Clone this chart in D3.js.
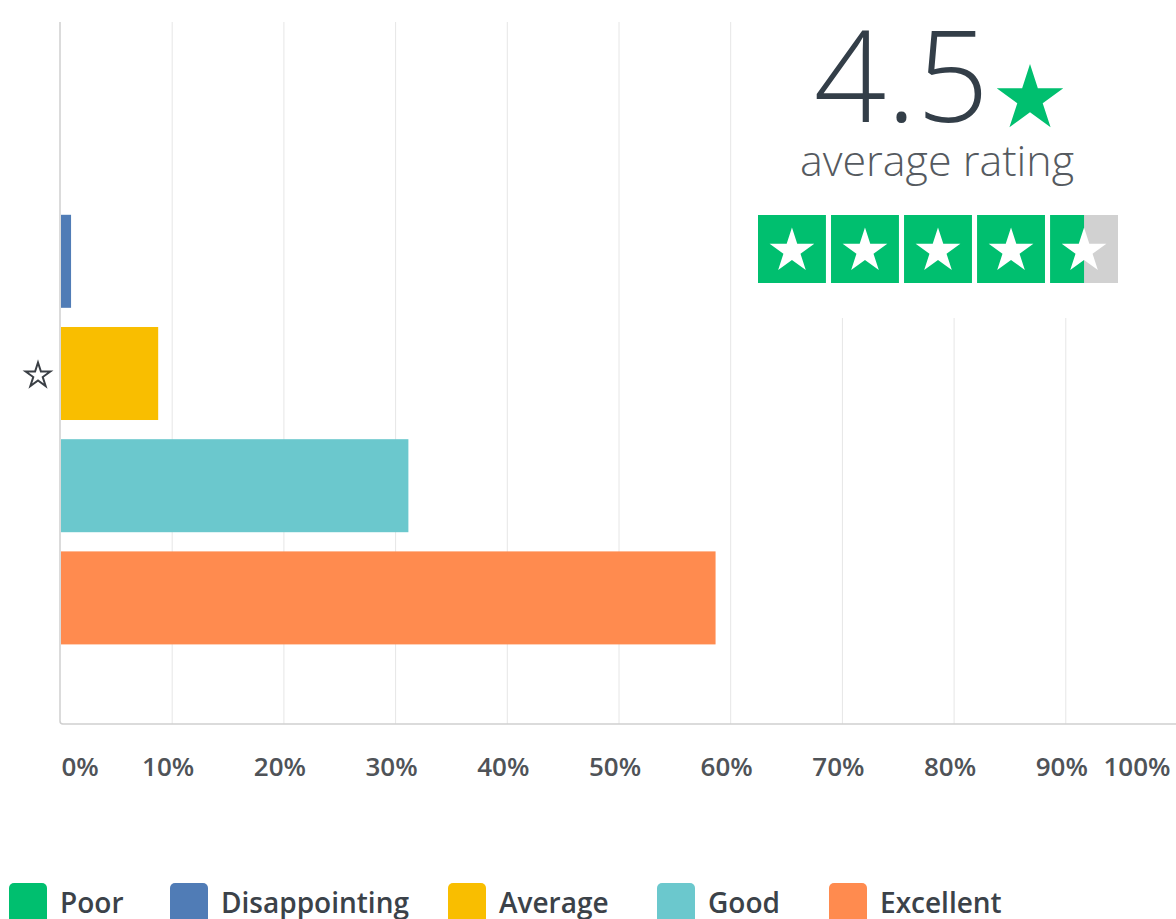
<!DOCTYPE html>
<html>
<head>
<meta charset="utf-8">
<script src="https://cdn.jsdelivr.net/npm/d3@7"></script>
<style>
  html, body { margin: 0; padding: 0; background: #fff; }
  svg { display: block; }
  text { font-family: "Open Sans", "Noto Sans", sans-serif; }
</style>
</head>
<body>
<svg id="chart" width="1176" height="919"></svg>
<script>
// ---- data ----
const categories = ["Poor", "Disappointing", "Average", "Good", "Excellent"];
const percentages = [0, 0.9, 8.7, 31.1, 58.6];
const colors = ["#00bf6f", "#507cb6", "#f9be00", "#6bc8cd", "#ff8b4f"];
const xTicks = [0, 10, 20, 30, 40, 50, 60, 70, 80, 90, 100];
const averageRating = 4.5;
const maxRating = 5;
const ratingLabel = "average rating";
const markedCategory = "Average";

const svg = d3.select("#chart");
svg.append("rect").attr("width", 1176).attr("height", 919).attr("fill", "#fff");

const plotTop = 22, plotBottom = 724, plotLeft = 60;
const x = d3.scaleLinear().domain([0, 100]).range([plotLeft, 1177]);
const y = d3.scaleBand().domain(categories).range([93, 654]).paddingInner(0.171).paddingOuter(0.0855);

// gridlines
svg.append("g")
  .attr("transform", `translate(0,${plotBottom})`)
  .call(d3.axisBottom(x).tickValues(xTicks.slice(1)).tickSize(-(plotBottom - plotTop)).tickFormat(""))
  .call(g => g.select(".domain").remove())
  .call(g => g.selectAll(".tick line").attr("stroke", "#e6e6e6").attr("stroke-width", 1));

// axis lines
svg.append("path")
  .attr("d", `M${plotLeft},${plotTop} L${plotLeft},${plotBottom - 3} Q${plotLeft},${plotBottom} ${plotLeft + 3},${plotBottom} L1176,${plotBottom}`)
  .attr("fill", "none").attr("stroke", "#cfcfcf").attr("stroke-width", 1.5);

// bars
svg.append("g").selectAll("rect")
  .data(categories.map((c, i) => ({ c, v: percentages[i], col: colors[i] })))
  .join("rect")
  .attr("x", x(0) + 1)
  .attr("y", d => y(d.c))
  .attr("width", d => Math.max(0, x(d.v) - x(0)))
  .attr("height", y.bandwidth())
  .attr("fill", d => d.col);

// marker star for the marked category
const starPath = r => d3.symbol().type(d3.symbolStar).size(r * r / 0.8908130915292852)();
svg.append("path")
  .attr("d", starPath(13))
  .attr("transform", `translate(38,${y(markedCategory) + y.bandwidth() / 2 + 2})`)
  .attr("fill", "none").attr("stroke", "#3a3f45").attr("stroke-width", 2).attr("stroke-linejoin", "miter");

// x tick labels
const xAxis = svg.append("g")
  .attr("transform", `translate(0,${plotBottom})`)
  .call(d3.axisBottom(x).tickValues(xTicks).tickSize(0).tickPadding(34).tickFormat(d => d + "%"));
xAxis.select(".domain").remove();
xAxis.selectAll(".tick text")
  .attr("font-family", "'Open Sans', sans-serif")
  .attr("font-size", 26)
  .attr("font-weight", 600)
  .attr("fill", "#4f5358")
  .attr("text-anchor", d => d === 0 ? "start" : d === 100 ? "end" : "middle")
  .attr("dx", d => d === 0 ? 1 : d === 100 ? -7 : -4);

// rating block (covers gridlines)
svg.append("rect").attr("x", 738).attr("y", 0).attr("width", 438).attr("height", 318).attr("fill", "#fff");

svg.append("text")
  .attr("x", 989).attr("y", 122)
  .attr("text-anchor", "end")
  .attr("font-size", 127).attr("font-weight", 300)
  .attr("fill", "#333e48")
  .text(averageRating.toFixed(1));

svg.append("path")
  .attr("d", starPath(35))
  .attr("transform", "translate(1030,99)")
  .attr("fill", "#00bf6f");

svg.append("text")
  .attr("x", 937).attr("y", 176)
  .attr("text-anchor", "middle")
  .attr("font-size", 43).attr("font-weight", 300)
  .attr("fill", "#555a60")
  .text(ratingLabel);

const boxX = d3.scaleBand().domain(d3.range(maxRating)).range([758, 1118]).paddingInner(0.07);
const boxTop = 215, boxH = 68;
const boxes = svg.append("g").selectAll("g").data(d3.range(maxRating)).join("g");
boxes.append("rect")
  .attr("x", i => boxX(i)).attr("y", boxTop)
  .attr("width", boxX.bandwidth()).attr("height", boxH)
  .attr("fill", "#d1d1d1");
boxes.append("rect")
  .attr("x", i => boxX(i)).attr("y", boxTop)
  .attr("width", i => boxX.bandwidth() * Math.max(0, Math.min(1, averageRating - i)))
  .attr("height", boxH)
  .attr("fill", "#00bf6f");
boxes.append("path")
  .attr("d", starPath(23.5))
  .attr("transform", i => `translate(${boxX(i) + boxX.bandwidth() / 2},${boxTop + 36})`)
  .attr("fill", "#fff");

// legend
const legendX = [9, 170, 448, 657, 829];
const legend = svg.append("g").selectAll("g")
  .data(categories.map((c, i) => ({ c, col: colors[i], lx: legendX[i] })))
  .join("g")
  .attr("transform", d => `translate(${d.lx},883)`);
legend.append("rect").attr("width", 38).attr("height", 40).attr("rx", 5).attr("fill", d => d.col);
legend.append("text")
  .attr("x", 51).attr("y", 30)
  .attr("font-size", 28).attr("font-weight", 600)
  .attr("fill", "#3b4249")
  .text(d => d.c);
</script>
</body>
</html>
